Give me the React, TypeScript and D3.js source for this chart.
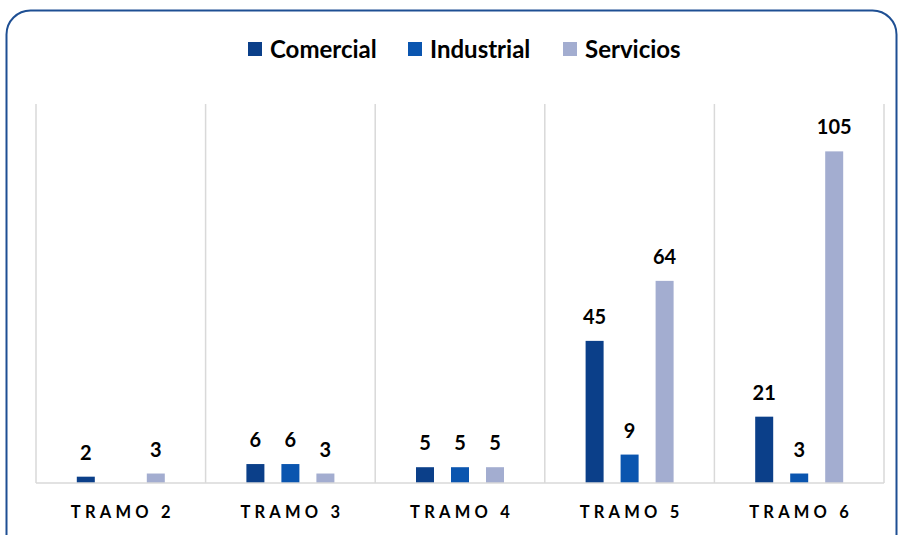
import React, { useEffect, useRef } from 'react';
import * as d3 from 'd3';

// categories and series
const tramos = ['TRAMO 2', 'TRAMO 3', 'TRAMO 4', 'TRAMO 5', 'TRAMO 6'];
const series = ['Comercial', 'Industrial', 'Servicios'];
const seriesColors = ['#0B3F89', '#0A55AF', '#A3ADD0'];

const comercial = [2, 6, 5, 45, 21];
const industrial = [null, 6, 5, 9, 3];
const servicios = [3, 3, 5, 64, 105];

const values = [comercial, industrial, servicios];

const W = 900;
const H = 535;

const App = () => {
    const svgRef = useRef(null);

    useEffect(() => {
        const svg = d3.select(svgRef.current);
        svg.selectAll('*').remove();

        const left = 36, right = 884, top = 104, bottom = 483;
        const font = 'Lato, "Open Sans", sans-serif';

        // frame
        svg.append('rect')
            .attr('x', 6.5)
            .attr('y', 10.5)
            .attr('width', 890)
            .attr('height', 600)
            .attr('rx', 24)
            .attr('fill', '#fff')
            .attr('stroke', '#1E4F93')
            .attr('stroke-width', 2);

        const x0 = d3.scaleBand().domain(tramos).range([left, right]).padding(0);
        const x1 = d3.scalePoint().domain(series).range([-35, 35]);
        const y = d3.scaleLinear().domain([0, 120]).range([bottom, top]);
        const barW = 18;

        // category separators
        const seps = [...tramos.map(t => x0(t)), right];
        svg.append('g').selectAll('line')
            .data(seps)
            .enter()
            .append('line')
            .attr('x1', d => d)
            .attr('x2', d => d)
            .attr('y1', top)
            .attr('y2', bottom)
            .attr('stroke', '#D9D9D9')
            .attr('stroke-width', 1.5);

        // bars
        const bars = [];
        series.forEach((s, si) => {
            tramos.forEach((t, ti) => {
                const v = values[si][ti];
                if (v == null) return;
                bars.push({ s, si, t, v });
            });
        });

        const g = svg.append('g');
        g.selectAll('rect')
            .data(bars)
            .enter()
            .append('rect')
            .attr('x', d => x0(d.t) + x0.bandwidth() / 2 + x1(d.s) - barW / 2)
            .attr('y', d => y(d.v))
            .attr('width', barW)
            .attr('height', d => bottom - y(d.v))
            .attr('fill', d => seriesColors[d.si]);

        g.selectAll('text')
            .data(bars)
            .enter()
            .append('text')
            .attr('x', d => x0(d.t) + x0.bandwidth() / 2 + x1(d.s))
            .attr('y', d => y(d.v) - 17)
            .attr('text-anchor', 'middle')
            .style('font-family', font)
            .style('font-weight', 'bold')
            .style('font-size', '20px')
            .style('fill', '#000')
            .text(d => d.v);

        // baseline
        svg.append('line')
            .attr('x1', left)
            .attr('x2', right)
            .attr('y1', bottom)
            .attr('y2', bottom)
            .attr('stroke', '#D9D9D9')
            .attr('stroke-width', 1.5);

        // category labels
        svg.append('g').selectAll('text')
            .data(tramos)
            .enter()
            .append('text')
            .attr('x', d => x0(d) + x0.bandwidth() / 2 + 2)
            .attr('y', 518)
            .attr('text-anchor', 'middle')
            .style('font-family', font)
            .style('font-weight', 'bold')
            .style('font-size', '16.5px')
            .style('letter-spacing', '4.2px')
            .style('fill', '#000')
            .text(d => d);

        // legend
        const legendX = [248, 408, 563];
        const lg = svg.append('g');
        series.forEach((s, i) => {
            lg.append('rect')
                .attr('x', legendX[i])
                .attr('y', 42)
                .attr('width', 14)
                .attr('height', 14)
                .attr('fill', seriesColors[i]);
            lg.append('text')
                .attr('x', legendX[i] + 22)
                .attr('y', 58)
                .style('font-family', font)
                .style('font-weight', 'bold')
                .style('font-size', '24px')
                .style('fill', '#000')
                .text(s);
        });
    }, []);

    return (
        <div style={{ position: 'absolute', left: 0, top: 0, width: W, height: H, overflow: 'hidden', background: '#fff' }}>
            <svg ref={svgRef} width={W} height={H} style={{ display: 'block' }} />
        </div>
    );
};

export default App;
